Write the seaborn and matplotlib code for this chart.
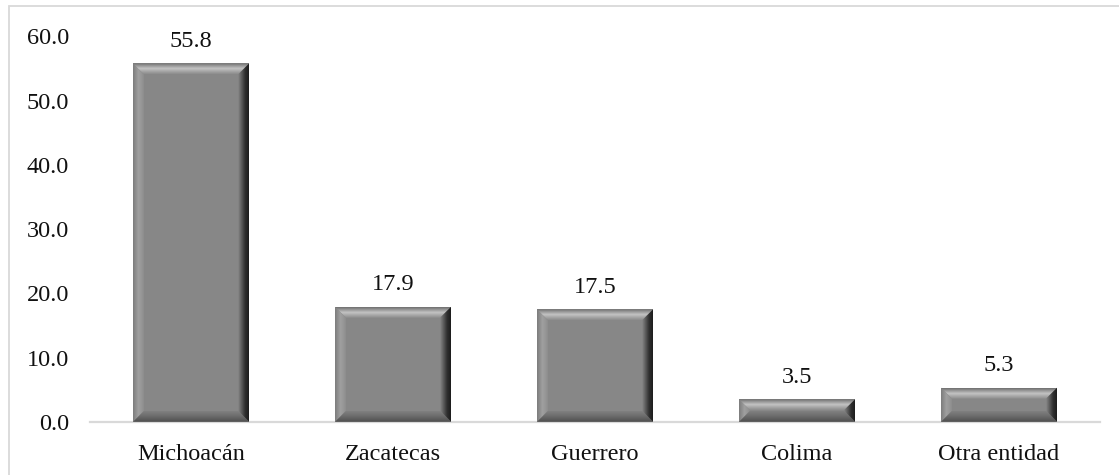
import numpy as np
import pandas as pd
import matplotlib
matplotlib.use("Agg")
import matplotlib.pyplot as plt
import seaborn as sns
from matplotlib.patches import Polygon, Rectangle
from matplotlib.colors import to_rgb

# Entidad de origen (porcentaje)
categorias = ["Michoacán", "Zacatecas", "Guerrero", "Colima", "Otra entidad"]
porcentajes = [55.8, 17.9, 17.5, 3.5, 5.3]
yticks = [0, 10, 20, 30, 40, 50, 60]

sns.set_theme(style="white")
plt.rcParams["font.family"] = ["Liberation Serif", "DejaVu Serif"]

FS = 17.5
W, H = 1119, 475
fig = plt.figure(figsize=(W / 100, H / 100), dpi=100)
ax = fig.add_axes([90 / W, 53.3 / H, 1010 / W, 385.2 / H])

df = pd.DataFrame({"entidad": categorias, "pct": porcentajes})
sns.barplot(data=df, x="entidad", y="pct", color="#878787", width=0.575,
            saturation=1, ax=ax, edgecolor="none", linewidth=0)

ax.set_xlim(-0.5, len(categorias) - 0.5)
ax.set_ylim(0, 60)
ax.set_yticks(yticks)
ax.set_yticklabels([f"{v:.1f}" for v in yticks], fontsize=FS, color="#111111")
ax.tick_params(axis="x", labelsize=FS, colors="#111111", length=0, pad=16)
ax.tick_params(axis="y", length=0, pad=15)
ax.set_xlabel("")
ax.set_ylabel("")
for s in ["top", "right", "left"]:
    ax.spines[s].set_visible(False)
ax.spines["bottom"].set_color("#d9d9d9")
ax.spines["bottom"].set_linewidth(1.6)
ax.spines["bottom"].set_zorder(0.5)

# pixel -> data scale for bevel thickness
px_x = ax.transData.transform((1, 0))[0] - ax.transData.transform((0, 0))[0]
px_y = ax.transData.transform((0, 1))[1] - ax.transData.transform((0, 0))[1]


def gradient(colors, n=64):
    cols = np.array([to_rgb(c) for c in colors])
    pos = np.linspace(0, 1, len(cols))
    t = np.linspace(0, 1, n)
    return np.stack([np.interp(t, pos, cols[:, k]) for k in range(3)], axis=-1)


def shade(poly_pts, extent, colors, vertical):
    g = gradient(colors)
    img = g[:, None, :] if vertical else g[None, :, :]
    poly = Polygon(poly_pts, closed=True, facecolor="none", edgecolor="none",
                   transform=ax.transData)
    ax.add_patch(poly)
    im = ax.imshow(img, extent=extent, origin="lower", aspect="auto",
                   interpolation="bilinear", zorder=3)
    im.set_clip_path(poly)


for bar in list(ax.patches):
    x0, x1 = bar.get_x(), bar.get_x() + bar.get_width()
    h = bar.get_height()
    d = min(11.0, h * px_y / 2.0)
    dx, dy = d / px_x, d / px_y
    # top bevel (origin lower: first colour at bottom of extent)
    shade([(x0, h), (x1, h), (x1 - dx, h - dy), (x0 + dx, h - dy)],
          (x0, x1, h - dy, h), ["#8c8c8c", "#a6a6a6", "#c4c4c4", "#9a9a9a", "#6e6e6e"], True)
    # bottom bevel
    shade([(x0, 0), (x1, 0), (x1 - dx, dy), (x0 + dx, dy)],
          (x0, x1, 0, dy), ["#4e4e4e", "#6a6a6a", "#808080"], True)
    # left bevel
    shade([(x0, 0), (x0 + dx, dy), (x0 + dx, h - dy), (x0, h)],
          (x0, x0 + dx, 0, h), ["#7c7c7c", "#a0a0a0", "#8e8e8e"], False)
    # right bevel
    shade([(x1, 0), (x1 - dx, dy), (x1 - dx, h - dy), (x1, h)],
          (x1 - dx, x1, 0, h), ["#888888", "#5a5a5a", "#2e2e2e", "#1c1c1c"], False)
    # value label
    ax.text((x0 + x1) / 2, h + 24.5 / px_y, f"{h:.1f}", ha="center",
            va="center_baseline", fontsize=FS, color="#111111")

ax.set_xlim(-0.5, len(categorias) - 0.5)
ax.set_ylim(0, 60)

# chart area frame
fig.add_artist(Rectangle((8.5 / W, -0.05), 1.2, (469 + 0.05 * H) / H,
                         transform=fig.transFigure, fill=False,
                         edgecolor="#d9d9d9", linewidth=1.3))

fig.savefig("out.png", dpi=100)
